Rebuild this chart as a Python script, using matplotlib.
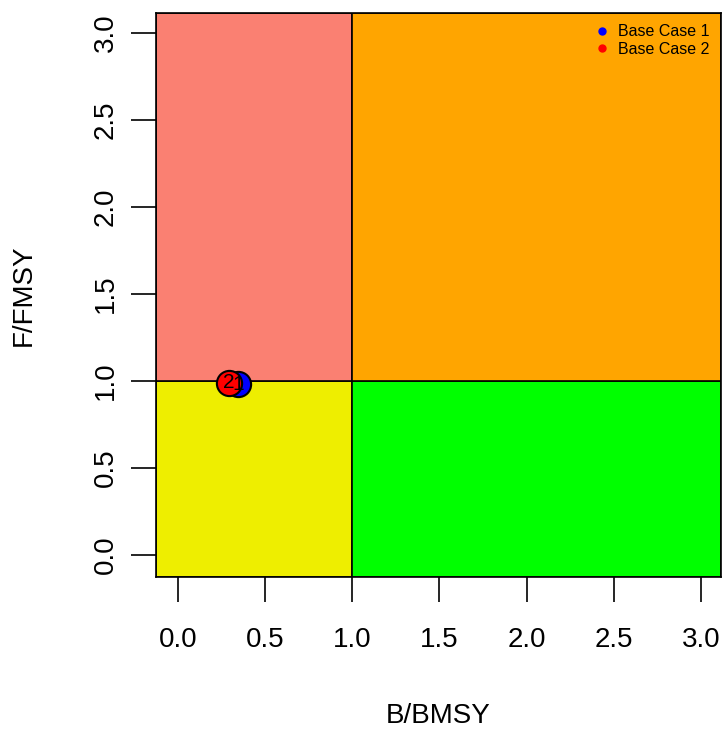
import numpy as np
import matplotlib.pyplot as plt
from matplotlib.patches import Rectangle

plt.rcParams['font.family'] = ['Liberation Sans', 'DejaVu Sans']

# stock status relative to reference points
cases = ['Base Case 1', 'Base Case 2']
labels = ['1', '2']
b_bmsy = [0.345, 0.29]
f_fmsy = [0.983, 0.99]
colours = ['blue', 'red']

ticks = [0.0, 0.5, 1.0, 1.5, 2.0, 2.5, 3.0]
lo, hi = -0.126, 3.115

fig = plt.figure(figsize=(7.26, 7.29), dpi=100)
ax = fig.add_axes([156/726, 1 - 577/729, 565/726, 564/729])

# Kobe quadrants
ax.add_patch(Rectangle((lo, lo), 1 - lo, 1 - lo, fc='#EEEE00', ec='black', lw=1.2))
ax.add_patch(Rectangle((1, lo), hi - 1, 1 - lo, fc='#00FF00', ec='black', lw=1.2))
ax.add_patch(Rectangle((lo, 1), 1 - lo, hi - 1, fc='#FA8072', ec='black', lw=1.2))
ax.add_patch(Rectangle((1, 1), hi - 1, hi - 1, fc='#FFA500', ec='black', lw=1.2))

for i in range(len(cases)):
    ax.scatter(b_bmsy[i], f_fmsy[i], s=330, c=colours[i], edgecolors='black',
               linewidths=1.5, zorder=3)
    ax.text(b_bmsy[i], f_fmsy[i], labels[i], ha='center', va='center',
            fontsize=15, zorder=4)

ax.set_xlim(lo, hi)
ax.set_ylim(lo, hi)
ax.set_xticks(ticks)
ax.set_yticks(ticks)
ax.set_xticklabels(['%.1f' % t for t in ticks])
ax.set_yticklabels(['%.1f' % t for t in ticks], rotation=90, va='center')
ax.tick_params(length=18, width=1.2, labelsize=20)
ax.tick_params(axis='x', pad=18)
ax.tick_params(axis='y', pad=9)
for s in ax.spines.values():
    s.set_linewidth(1.2)

ax.set_xlabel('B/BMSY', fontsize=20, labelpad=36)
ax.set_ylabel('F/FMSY', fontsize=20, labelpad=40)

handles = [plt.Line2D([], [], marker='o', ls='', color=c, markersize=5) for c in colours]
ax.legend(handles, cases, loc='upper right', frameon=False, fontsize=11.5,
          handletextpad=0.2, handlelength=1.6, borderaxespad=0.3,
          labelspacing=0.15)

fig.savefig('out.png', dpi=100)
